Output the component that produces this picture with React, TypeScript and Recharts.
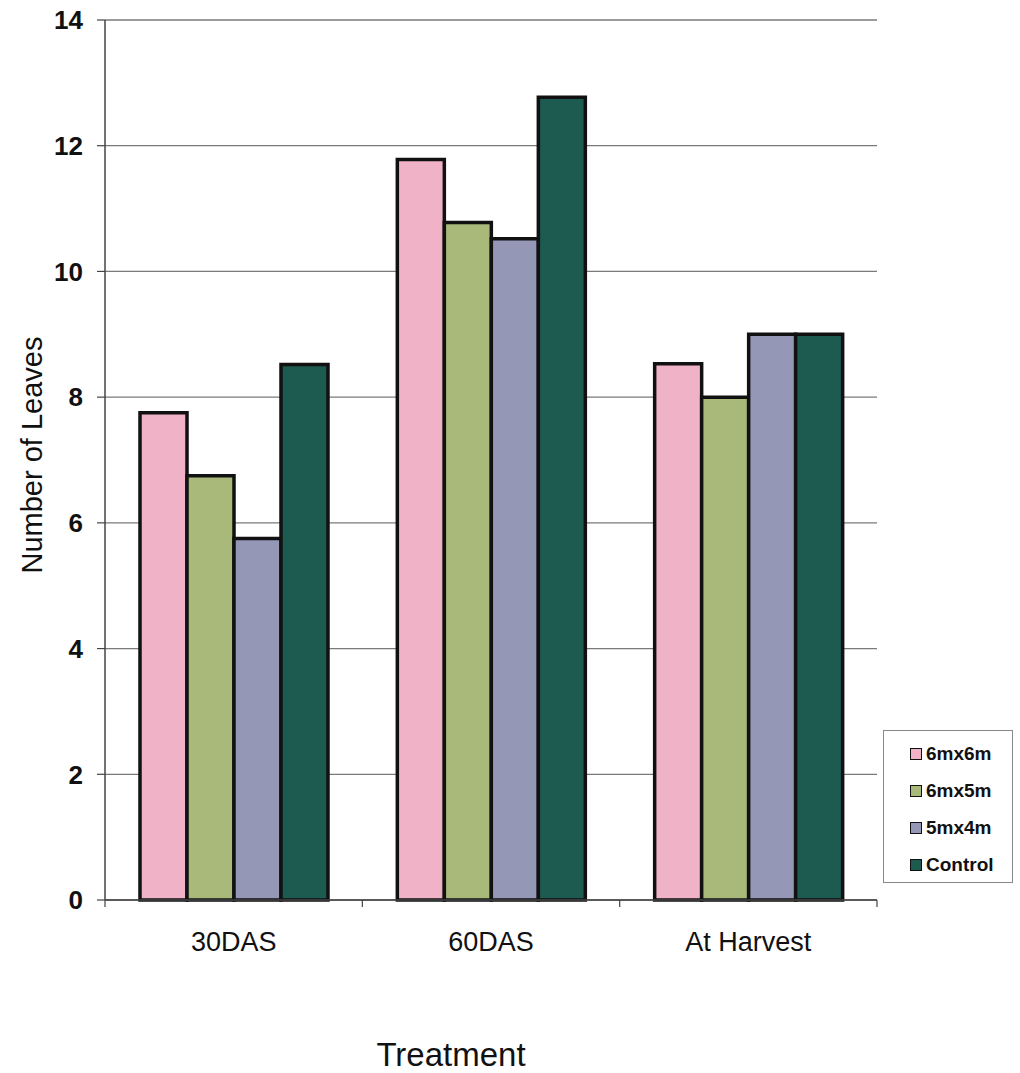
import { BarChart, Bar, XAxis, YAxis, CartesianGrid, Legend } from 'recharts';

const categories = ['30DAS', '60DAS', 'At Harvest'];
const seriesNames = ['6mx6m', '6mx5m', '5mx4m', 'Control'];
const s6x6 = [7.75, 11.78, 8.53];
const s6x5 = [6.75, 10.78, 8.0];
const s5x4 = [5.75, 10.52, 9.0];
const control = [8.52, 12.77, 9.0];
const yTicks = [0, 2, 4, 6, 8, 10, 12, 14];

const colors = ['#F0B2C7', '#A8B97A', '#9597B6', '#1D5A50'];
const FONT = '"Liberation Sans", Arial, sans-serif';

const W = 1020;
const H = 1073;
const PLOT_LEFT = 105;
const PLOT_RIGHT = 877;
const BAND = (PLOT_RIGHT - PLOT_LEFT) / categories.length;

const data = categories.map((name, i) => ({
  name,
  [seriesNames[0]]: s6x6[i],
  [seriesNames[1]]: s6x5[i],
  [seriesNames[2]]: s5x4[i],
  [seriesNames[3]]: control[i],
}));

const XTick = (props: any) => {
  const { x, y, payload, index } = props;
  const axisY = y - 32;
  return (
    <g>
      <line x1={x - BAND / 2} x2={x - BAND / 2} y1={axisY} y2={axisY + 7} stroke="#444" strokeWidth={1.2} />
      {index === categories.length - 1 && (
        <line x1={x + BAND / 2} x2={x + BAND / 2} y1={axisY} y2={axisY + 7} stroke="#444" strokeWidth={1.2} />
      )}
      <text x={x} y={y} dy="0.71em" textAnchor="middle" fontSize={27} fill="#111" fontFamily={FONT}>
        {payload.value}
      </text>
    </g>
  );
};

const YTitle = () => (
  <text
    transform="translate(42,455) rotate(-90)"
    textAnchor="middle"
    fontSize={29}
    fill="#111"
    fontFamily={FONT}
  >
    Number of Leaves
  </text>
);

const XTitle = () => (
  <text x={451} y={1066} textAnchor="middle" fontSize={33} fill="#111" fontFamily={FONT}>
    Treatment
  </text>
);

const LegendBox = (props: any) => {
  const items = [...(props.payload || [])].sort(
    (a: any, b: any) => seriesNames.indexOf(a.value) - seriesNames.indexOf(b.value)
  );
  return (
    <div
      style={{
        width: 130,
        height: 153,
        boxSizing: 'border-box',
        border: '1px solid #888',
        background: '#fff',
        paddingTop: 4,
        fontFamily: FONT,
      }}
    >
      {items.map((entry: any) => (
        <div key={entry.value} style={{ height: 37, display: 'flex', alignItems: 'center', paddingLeft: 26 }}>
          <span
            style={{
              width: 10,
              height: 10,
              background: entry.color,
              border: '1.5px solid #111',
              display: 'inline-block',
              marginRight: 4,
            }}
          />
          <span style={{ fontSize: 19, fontWeight: 'bold', color: '#111' }}>{entry.value}</span>
        </div>
      ))}
    </div>
  );
};

export default function App() {
  return (
    <div style={{ position: 'absolute', left: 0, top: 0, background: '#fff' }}>
      <BarChart
        width={W}
        height={H}
        data={data}
        margin={{ top: 20, right: W - PLOT_RIGHT, bottom: 0, left: 0 }}
        barCategoryGap="13.6%"
        barGap={0}
      >
        <CartesianGrid vertical={false} stroke="#7a7a7a" strokeWidth={1.3} />
        <XAxis
          dataKey="name"
          height={H - 900}
          tickSize={0}
          tickMargin={32}
          tick={<XTick />}
          axisLine={{ stroke: '#444', strokeWidth: 1.5 }}
          tickLine={false}
          interval={0}
          label={<XTitle />}
        />
        <YAxis
          width={PLOT_LEFT}
          domain={[0, 14]}
          ticks={yTicks}
          interval={0}
          tickSize={8}
          tickMargin={14}
          axisLine={{ stroke: '#444', strokeWidth: 1.5 }}
          tickLine={{ stroke: '#444', strokeWidth: 1.2 }}
          tick={{ fontSize: 26, fontWeight: 'bold', fill: '#111', fontFamily: FONT }}
          label={<YTitle />}
        />
        <YAxis
          yAxisId="right"
          orientation="right"
          width={0}
          tick={false}
          tickLine={false}
          axisLine={{ stroke: '#8a8a8a', strokeWidth: 1.2 }}
        />
        <Legend
          layout="vertical"
          align="center"
          verticalAlign="middle"
          content={<LegendBox />}
          wrapperStyle={{ position: 'absolute', left: 883, top: 730, width: 130, height: 153 }}
        />
        {seriesNames.map((name, i) => (
          <Bar
            key={name}
            dataKey={name}
            fill={colors[i]}
            stroke="#111"
            strokeWidth={3.5}
            isAnimationActive={false}
          />
        ))}
      </BarChart>
    </div>
  );
}
